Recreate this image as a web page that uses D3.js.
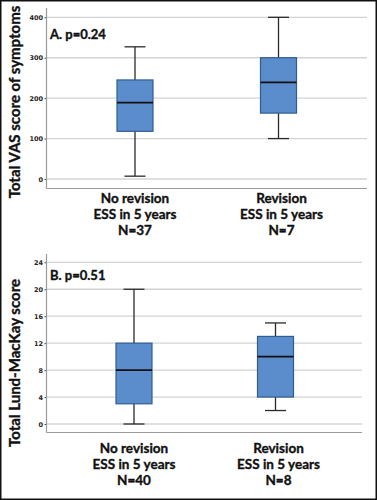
<!DOCTYPE html>
<html><head><meta charset="utf-8">
<script src="https://cdn.jsdelivr.net/npm/d3@7"></script>
<style>body{margin:0;background:#fff}svg{display:block}</style>
</head><body>
<script>
// Panel A: Total VAS score of symptoms
const categoriesA = [["No revision","ESS in 5 years","N=37"],["Revision","ESS in 5 years","N=7"]];
const minA = [7, 100];
const q1A = [118, 163];
const medA = [189, 239];
const q3A = [245, 300];
const maxA = [327, 400];
const ticksA = [0, 100, 200, 300, 400];
// Panel B: Total Lund-MacKay score
const categoriesB = [["No revision","ESS in 5 years","N=40"],["Revision","ESS in 5 years","N=8"]];
const minB = [0, 2];
const q1B = [3, 4];
const medB = [8, 10];
const q3B = [12, 13];
const maxB = [20, 15];
const ticksB = [0, 4, 8, 12, 16, 20, 24];

const W = 377, H = 500;
const svg = d3.select("body").append("svg").attr("width", W).attr("height", H);
svg.append("rect").attr("x",0.75).attr("y",0.75).attr("width",W-1.5).attr("height",H-1.5)
  .attr("fill","#fff").attr("stroke","#111").attr("stroke-width",1.5);

const FONT = "Lato, 'Open Sans', sans-serif";

function boldText(sel){
  return sel.attr("font-family",FONT).attr("font-weight","bold").attr("fill","#111")
    .attr("stroke","#111").attr("stroke-width",0.35);
}

function panel(o){
  const g = svg.append("g");
  const y = d3.scaleLinear().domain(o.domain).range([o.y0, o.y1]);
  const x = d3.scalePoint().domain(o.cats.map((d,i)=>i)).range([o.xc0, o.xc1]);
  // gridlines
  g.selectAll(".grid").data(o.ticks).join("line")
    .attr("x1", o.axX).attr("x2", o.gridEnd)
    .attr("y1", d=>y(d)).attr("y2", d=>y(d))
    .attr("stroke","#d4d4d4").attr("stroke-width",1.3);
  // y axis
  const ax = g.append("g").attr("transform",`translate(${o.axX},0)`)
    .call(d3.axisLeft(y).tickValues(o.ticks).tickSize(2).tickPadding(1.5));
  ax.select(".domain").remove();
  ax.selectAll("text").attr("font-family","'DejaVu Sans', sans-serif").attr("font-size",6.5)
    .attr("font-weight","bold").attr("fill","#222");
  ax.selectAll(".tick line").attr("stroke","#444");
  g.append("line").attr("x1",o.axX).attr("x2",o.axX).attr("y1",o.axTop).attr("y2",o.axBot)
    .attr("stroke","#9a9a9a").attr("stroke-width",1.2);
  g.append("line").attr("x1",o.axX).attr("x2",o.gridEnd).attr("y1",o.axBot).attr("y2",o.axBot)
    .attr("stroke","#9a9a9a").attr("stroke-width",1.2);
  // boxes
  const bw = 36, cw = 21;
  const idx = o.cats.map((d,i)=>i);
  g.selectAll(".whisk").data(idx).join("line")
    .attr("x1",i=>x(i)).attr("x2",i=>x(i)).attr("y1",i=>y(o.mn[i])).attr("y2",i=>y(o.mx[i]))
    .attr("stroke","#2a2a2a").attr("stroke-width",1.3);
  ["mn","mx"].forEach(k=>{
    g.selectAll(".cap"+k).data(idx).join("line")
      .attr("x1",i=>x(i)-cw/2).attr("x2",i=>x(i)+cw/2)
      .attr("y1",i=>y(o[k][i])).attr("y2",i=>y(o[k][i]))
      .attr("stroke","#2a2a2a").attr("stroke-width",1.3);
  });
  g.selectAll(".box").data(idx).join("rect")
    .attr("x",i=>x(i)-bw/2).attr("width",bw)
    .attr("y",i=>y(o.q3[i])).attr("height",i=>y(o.q1[i])-y(o.q3[i]))
    .attr("fill","#5b8dcd").attr("stroke","#2f5d93").attr("stroke-width",1.2);
  g.selectAll(".med").data(idx).join("line")
    .attr("x1",i=>x(i)-bw/2).attr("x2",i=>x(i)+bw/2)
    .attr("y1",i=>y(o.md[i])).attr("y2",i=>y(o.md[i]))
    .attr("stroke","#111").attr("stroke-width",1.8);
  // annotation
  boldText(g.append("text").attr("x",o.annX).attr("y",o.annY).text(o.ann).attr("font-size",13));
  // axis title
  boldText(g.append("text").attr("transform",`translate(${o.titleX},${o.titleY}) rotate(-90)`)
    .attr("text-anchor","middle").text(o.title).attr("font-size",15));
  // category labels
  o.cats.forEach((lines,i)=>{
    lines.forEach((t,j)=>{
      boldText(g.append("text").attr("x",x(i)+(i?3:0)).attr("y",o.labY+j*16).attr("text-anchor","middle")
        .text(t).attr("font-size",13.5));
    });
  });
}

panel({domain:[0,400], y0:179, y1:17.3, ticks:ticksA, axX:46.5, axTop:8, axBot:188.5, gridEnd:367,
  xc0:135, xc1:278.5, cats:categoriesA, mn:minA, q1:q1A, md:medA, q3:q3A, mx:maxA,
  ann:"A. p=0.24", annX:50, annY:39, title:"Total VAS score of symptoms", titleX:20, titleY:102, labY:203});
panel({domain:[0,24], y0:424, y1:262.3, ticks:ticksB, axX:46.5, axTop:254, axBot:432.5, gridEnd:362,
  xc0:134, xc1:275.5, cats:categoriesB, mn:minB, q1:q1B, md:medB, q3:q3B, mx:maxB,
  ann:"B. p=0.51", annX:50, annY:280, title:"Total Lund-MacKay score", titleX:20, titleY:363, labY:453});
</script>
</body></html>
